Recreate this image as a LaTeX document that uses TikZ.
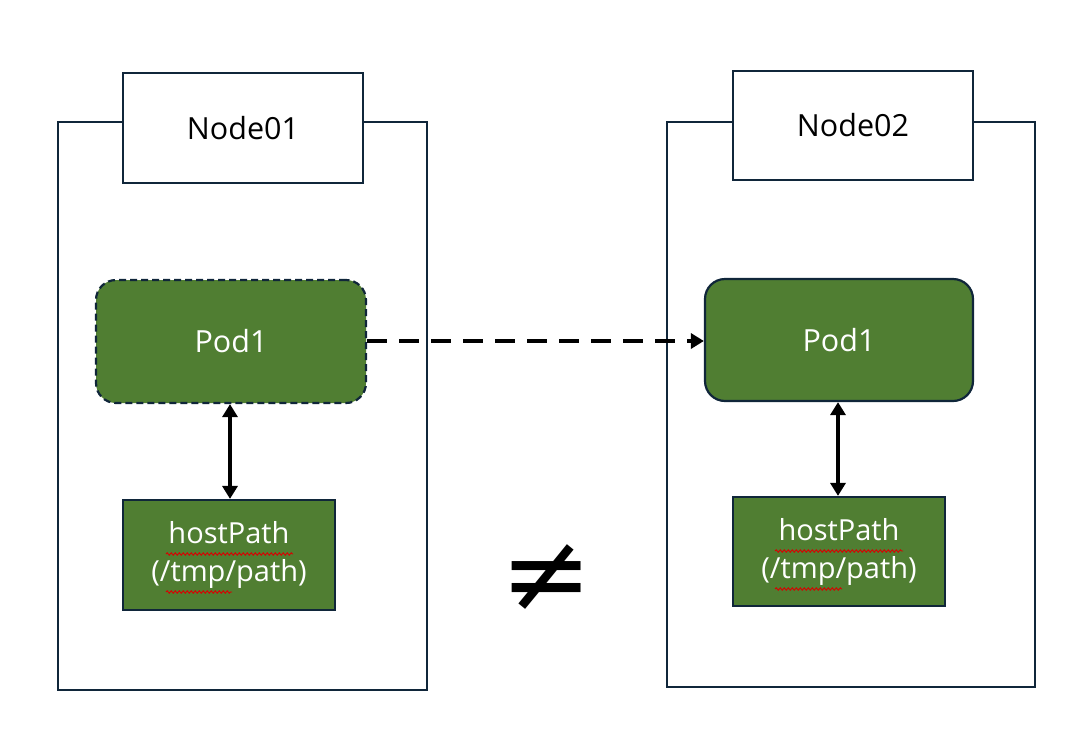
\documentclass[tikz,border=0pt]{standalone}
\usepackage{fontspec}
\setmainfont{Open Sans}
\newfontfamily\symfont{DejaVu Sans}
\usetikzlibrary{arrows.meta,decorations.pathmorphing}
\definecolor{frame}{HTML}{10263A}
\definecolor{podgreen}{HTML}{507E32}
\tikzset{
  framebox/.style={draw=frame,line width=2.2pt},
  titlebox/.style={draw=frame,line width=2.2pt,fill=white,inner sep=0pt,font=\fontsize{30.5}{36}\selectfont},
  podbox/.style={draw=frame,line width=2.2pt,fill=podgreen,rounded corners=20pt,text=white,inner sep=0pt,font=\fontsize{30.5}{36}\selectfont},
  hpbox/.style={draw=frame,line width=2.2pt,fill=podgreen,text=white,inner sep=0pt,align=center,font=\fontsize{29}{38}\selectfont},
  biarrow/.style={line width=4pt,{Triangle[length=13pt,width=15pt]}-{Triangle[length=13pt,width=15pt]}},
  movearrow/.style={line width=4pt,dash pattern=on 20pt off 12pt,-{Triangle[length=13pt,width=15pt]}},
  squiggle/.style={draw=red!85!black,line width=0.9pt,decorate,decoration={snake,segment length=4pt,amplitude=1.2pt}}
}
\begin{document}
\begin{tikzpicture}[x=1pt,y=-1pt]
\useasboundingbox (0,0) rectangle (1092,732);
% left machine
\node[framebox,minimum width=369pt,minimum height=568pt,inner sep=0pt] (frame1) at (242.5,406) {};
\node[titlebox,minimum width=240pt,minimum height=110pt] (n1) at (243,128) {Node01};
\node[podbox,dash pattern=on 7pt off 4pt,minimum width=270pt,minimum height=123pt] (pod1) at (231,341.5) {Pod1};
\node[hpbox,minimum width=212pt,minimum height=110pt] (hp1) at (229,555) {hostPath\\(/tmp/path)};
\draw[biarrow] (pod1.south -| 230,0) -- (hp1.north -| 230,0);
% right machine
\node[framebox,minimum width=368pt,minimum height=565pt,inner sep=0pt] (frame2) at (851,404.5) {};
\node[titlebox,minimum width=240pt,minimum height=109pt] (n2) at (853,125.5) {Node02};
\node[podbox,minimum width=268pt,minimum height=122pt] (pod2) at (839,340) {Pod1};
\node[hpbox,minimum width=212pt,minimum height=109pt] (hp2) at (839,551.5) {hostPath\\(/tmp/path)};
\draw[biarrow] (pod2.south -| 838,0) -- (hp2.north -| 838,0);
% migration arrow
\draw[movearrow] (pod1.east |- 0,341) -- (pod2.west |- 0,341);
% not equal sign
\node[inner sep=0pt,font=\symfont\fontsize{110}{110}\selectfont] (neq) at (547,578) {≠};
% spell-check marks
\draw[squiggle] (166,554) -- (293,554);
\draw[squiggle] (166,592) -- (232,592);
\draw[squiggle] (775,551) -- (903,551);
\draw[squiggle] (775,589) -- (842,589);
\end{tikzpicture}
\end{document}
